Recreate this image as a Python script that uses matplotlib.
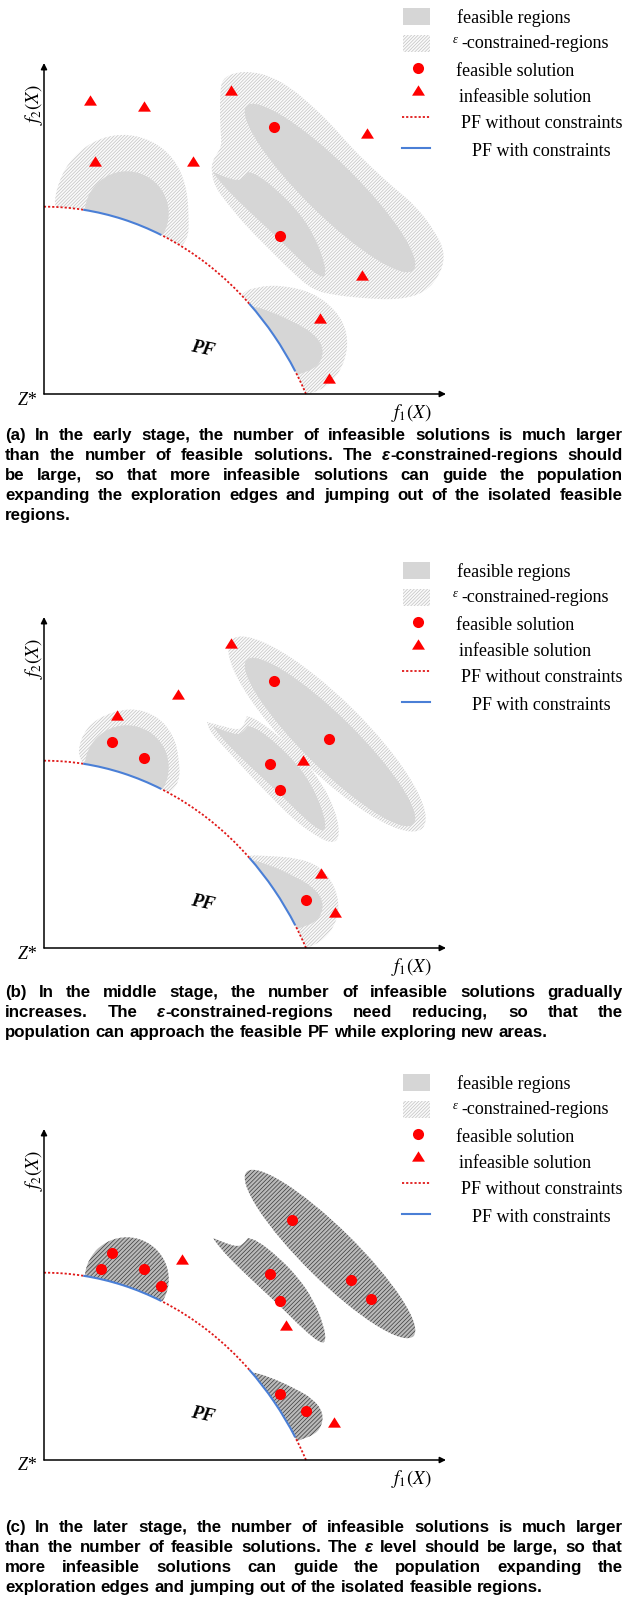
import numpy as np
import matplotlib.pyplot as plt
from matplotlib.patches import Arc, Circle, Ellipse, PathPatch, Rectangle
from matplotlib.path import Path

plt.rcParams['mathtext.fontset'] = 'stix'
plt.rcParams['hatch.linewidth'] = 0.5

W, H = 628, 1599
ORIGIN_X = 44
ORIGIN_Y = [394, 948, 1460]          # pixel row of Z* for stages a, b, c

# Pareto front drawn as an elliptic arc (panel units, origin at Z*)
PF_CENTER = (0, -150)
PF_HALF = (292.5, 337.3)
PF_FREE = [(83.3, 90), (49.5, 69.2), (29.8, 34.5)]      # dotted parts (deg)
PF_CONSTRAINED = [(69.2, 83.3), (34.5, 49.5)]           # blue parts (deg)

# feasible regions, same in every stage
F1_CENTER, F1_R = (82.7, 180.7), 42
F2_CENTER, F2_W, F2_H, F2_ANGLE = (286, 206), 234, 52, -44.6
F3_OUTLINE = [(169, 222), (181, 217), (194, 213), (200, 217), (204, 222), (214, 219),
              (233, 204), (253, 184), (269, 161), (280, 134), (282, 118), (276, 117),
              (259, 131), (236, 154), (209, 179), (186, 201), (173, 216)]
F4_OUTLINE = [(205, 89), (226, 83), (252, 71), (269, 61), (279, 48), (278, 34),
              (270, 25), (258, 21), (245, 15), (215, 50), (195, 85)]

# epsilon-constrained regions, stage a
EPS1_A = [(10, 182), (12, 205), (24, 232), (48, 253), (78, 261), (108, 254), (130, 236),
          (142, 210), (145, 180), (144, 150), (120, 140), (40, 170)]
EPS_BIG_A = [(176, 300), (178, 315), (192, 322), (210, 322), (228, 317), (247, 306),
             (266, 290), (286, 271), (306, 248), (326, 228), (350, 206), (372, 188),
             (392, 161), (401, 141), (397, 121), (381, 101), (353, 94), (317, 96),
             (290, 99), (269, 104), (249, 121), (226, 144), (203, 167), (183, 191),
             (171, 207), (167, 224), (169, 234), (173, 240), (178, 249), (176, 268)]
EPS4_A = [(197, 101), (212, 107), (236, 109), (268, 102), (292, 84), (304, 61),
          (302, 34), (288, 11), (272, 2), (262, 0), (230, 10), (190, 80)]

# epsilon-constrained regions, stage b
EPS1_B = [(34, 186), (36, 210), (52, 230), (86, 241), (114, 232), (130, 212),
          (135, 190), (136, 165), (120, 150), (60, 170)]
EPS2_B_CENTER, EPS2_B_W, EPS2_B_H = (283, 214), 268, 72
EPS3_B = [(163, 226), (178, 222), (193, 218), (199, 221), (203, 232), (212, 229),
          (235, 212), (258, 190), (278, 165), (292, 136), (296, 112), (289, 104),
          (272, 112), (250, 128), (226, 152), (203, 176), (181, 200), (166, 216)]
EPS4_B = [(199, 93), (226, 92), (253, 90), (276, 82), (291, 62), (296, 38),
          (287, 15), (270, 2), (258, 0), (230, 20), (190, 80)]

# solutions per stage
FEAS_A = [(230.3, 266.7), (236, 158)]
INFEAS_A = [(45.5, 294), (100, 288.5), (187, 304), (148.7, 233.5), (51, 233.3),
            (323.3, 261.3), (317.7, 119), (276.4, 75.7), (285.2, 15.7)]
FEAS_B = [(230.3, 267.3), (285.3, 209), (68, 206), (100.3, 189.7), (226, 184.3),
          (236.3, 157.7), (261.7, 47.7)]
INFEAS_B = [(187, 305), (133.7, 254.3), (73.3, 233.3), (258.7, 188.3), (276.7, 75),
            (291, 35.7)]
FEAS_C = [(67.7, 206.7), (56.7, 190.7), (100.3, 190.7), (116.7, 174.3), (247.5, 240),
          (226.3, 185.7), (236.3, 159), (307.2, 179.7), (326.9, 160.7), (236.3, 66),
          (261.6, 49)]
INFEAS_C = [(138.2, 200.7), (241.5, 135.3), (290.4, 37.7)]

LEGEND_LABELS = ['feasible regions', '-constrained-regions', 'feasible solution',
                 'infeasible solution', 'PF without constraints', 'PF with constraints']
LEGEND_TEXT_X = [412.7, 417.7, 412, 415.3, 416.7, 427.7]
LEGEND_TEXT_Y = [375.7, 350.7, 322.3, 296.7, 270.7, 242.3]

CAPTION_A = ["(a) In the early stage, the number of infeasible solutions is much larger",
             "than the number of feasible solutions. The ε-constrained-regions should",
             "be large, so that more infeasible solutions can guide the population",
             "expanding the exploration edges and jumping out of the isolated feasible",
             "regions."]
CAPTION_B = ["(b) In the middle stage, the number of infeasible solutions gradually",
             "increases. The ε-constrained-regions need reducing, so that the",
             "population can approach the feasible PF while exploring new areas."]
CAPTION_C = ["(c) In the later stage, the number of infeasible solutions is much larger",
             "than the number of feasible solutions. The ε level should be large, so that",
             "more infeasible solutions can guide the population expanding the",
             "exploration edges and jumping out of the isolated feasible regions."]
CAPTION_ROW = [435, 992, 1527]

GRAY = '#d6d6d6'
RED = '#ff0000'
BLUE = '#4a7fd6'
SERIF = 'Liberation Serif'
CAP_FONT = dict(family='Liberation Sans', weight='bold', size=12.2)
TRIANGLE = [(-1, -0.8), (1, -0.8), (0, 0.8)]


def smooth(points, sharp=()):
    """Closed quadratic B-spline path through the given control points."""
    pts = []
    for i, p in enumerate(points):
        pts.append(p)
        if i in sharp:
            pts.append(p)
    pts = np.asarray(pts, float)
    mids = (pts + np.roll(pts, -1, axis=0)) / 2
    verts, codes = [mids[-1]], [Path.MOVETO]
    for p, m in zip(pts, mids):
        verts += [p, m]
        codes += [Path.CURVE3, Path.CURVE3]
    return Path(verts, codes)


def feasible_shapes():
    return [Circle(F1_CENTER, F1_R),
            Ellipse(F2_CENTER, F2_W, F2_H, angle=F2_ANGLE),
            PathPatch(smooth(F3_OUTLINE, sharp=(0, 4))),
            PathPatch(smooth(F4_OUTLINE))]


def eps_shapes(stage):
    if stage == 0:
        return [PathPatch(smooth(EPS1_A)), PathPatch(smooth(EPS_BIG_A)),
                PathPatch(smooth(EPS4_A))]
    if stage == 1:
        return [PathPatch(smooth(EPS1_B)),
                Ellipse(EPS2_B_CENTER, EPS2_B_W, EPS2_B_H, angle=F2_ANGLE),
                PathPatch(smooth(EPS3_B, sharp=(0, 4))), PathPatch(smooth(EPS4_B))]
    return []


def light_hatch(p):
    p.set(facecolor='#fafafa', edgecolor='#c2c2c2', linewidth=0, hatch='//////////')


def dark_hatch(p):
    p.set(facecolor='#bababa', edgecolor='#3a3a3a', linewidth=0, hatch='////////')


def draw_panel(ax, stage, feas, infeas):
    for p in eps_shapes(stage):
        light_hatch(p)
        p.set_zorder(1)
        ax.add_patch(p)
    for p in feasible_shapes():
        if stage == 2:
            dark_hatch(p)
        else:
            p.set(facecolor=GRAY, edgecolor='none')
        p.set_zorder(1.5)
        ax.add_patch(p)

    # everything inside the front is unreachable, keep it blank
    mask = Ellipse(PF_CENTER, 2 * PF_HALF[0], 2 * PF_HALF[1], facecolor='white',
                   edgecolor='none', zorder=2)
    ax.add_patch(mask)
    mask.set_clip_path(Rectangle((0, 0), 600, 600, transform=ax.transData))

    for t1, t2 in PF_FREE:
        ax.add_patch(Arc(PF_CENTER, 2 * PF_HALF[0], 2 * PF_HALF[1], theta1=t1, theta2=t2,
                         color='#e01818', lw=1.3, linestyle=(0, (1.2, 1.1)), zorder=3))
    for t1, t2 in PF_CONSTRAINED:
        ax.add_patch(Arc(PF_CENTER, 2 * PF_HALF[0], 2 * PF_HALF[1], theta1=t1, theta2=t2,
                         color=BLUE, lw=1.5, zorder=3))

    fx, fy = zip(*feas)
    ax.plot(fx, fy, 'o', color=RED, ms=8, mec='none', zorder=4)
    ix, iy = zip(*infeas)
    ax.plot(ix, iy, marker=TRIANGLE, ls='none', color=RED, ms=9.3, mec='none', zorder=4)

    arrow = dict(arrowstyle='-|>', color='black', lw=1.1, mutation_scale=9,
                 shrinkA=0, shrinkB=0)
    ax.annotate('', xy=(402, 0), xytext=(0, 0), arrowprops=arrow, zorder=5)
    ax.annotate('', xy=(0, 331), xytext=(0, 0), arrowprops=arrow, zorder=5)

    ax.text(-17, -6, 'Z*', family=SERIF, style='italic', fontsize=13,
            ha='center', va='center')
    ax.text(367, -19, r'$f_1(X)$', fontsize=13.5, ha='center', va='center')
    ax.text(-10, 289, r'$f_2(X)$', fontsize=13.5, rotation=90, ha='center', va='center')
    ax.text(159, 45, 'PF', family=SERIF, weight='bold', style='italic', fontsize=13.5,
            rotation=-12, ha='center', va='center')

    # legend
    ax.add_patch(Rectangle((359, 369), 27, 17, facecolor=GRAY, edgecolor='none'))
    r = Rectangle((359, 342), 27, 17)
    light_hatch(r)
    ax.add_patch(r)
    ax.plot([374.3], [325.7], 'o', color=RED, ms=8, mec='none')
    ax.plot([374.3], [304], marker=TRIANGLE, color=RED, ms=9.3, mec='none')
    ax.plot([357.7, 386], [277.3, 277.3], color='#e01818', lw=1.3, ls=(0, (1.2, 1.1)))
    ax.plot([357.7, 386], [245.7, 245.7], color=BLUE, lw=1.5)
    for label, tx, ty in zip(LEGEND_LABELS, LEGEND_TEXT_X, LEGEND_TEXT_Y):
        ax.text(tx, ty, label, family=SERIF, fontsize=13, ha='left', va='center')
    ax.text(409, 354, 'ε', family=SERIF, style='italic', fontsize=9,
            ha='left', va='center')


fig = plt.figure(figsize=(W / 100, H / 100), dpi=100)
renderer = fig.canvas.get_renderer()

stages = [(FEAS_A, INFEAS_A), (FEAS_B, INFEAS_B), (FEAS_C, INFEAS_C)]
for stage, (oy, (feas, infeas)) in enumerate(zip(ORIGIN_Y, stages)):
    top, bottom = oy - 394, oy + 30
    ax = fig.add_axes([0, 1 - bottom / H, 1, (bottom - top) / H])
    ax.set_xlim(-ORIGIN_X, W - ORIGIN_X)
    ax.set_ylim(-30, 394)
    ax.axis('off')
    draw_panel(ax, stage, feas, infeas)


def word_parts(word):
    if word.startswith('ε'):
        return [('ε', 'italic'), (word[1:], 'normal')]
    return [(word, 'normal')]


def text_width(s, style='normal'):
    t = fig.text(0, 0, s, style=style, **CAP_FONT)
    w = t.get_window_extent(renderer).width
    t.remove()
    return w


def put_word(x, y, word):
    for part, style in word_parts(word):
        if part:
            fig.text(x / W, 1 - y / H, part, style=style, va='baseline', **CAP_FONT)
            x += text_width(part, style)


SPACE = text_width('n n') - text_width('nn')
CAP_LEFT, CAP_RIGHT = 5, 623


def caption(lines, first_row):
    for k, line in enumerate(lines):
        y = first_row + 20 * k + 5
        words = line.split()
        widths = [sum(text_width(p, s) for p, s in word_parts(w) if p) for w in words]
        if k == len(lines) - 1:
            gap = SPACE
        else:
            gap = (CAP_RIGHT - CAP_LEFT - sum(widths)) / (len(words) - 1)
        x = CAP_LEFT
        for w, wd in zip(words, widths):
            put_word(x, y, w)
            x += wd + gap


for lines, row in zip([CAPTION_A, CAPTION_B, CAPTION_C], CAPTION_ROW):
    caption(lines, row)

fig.savefig('out.png', dpi=100)
